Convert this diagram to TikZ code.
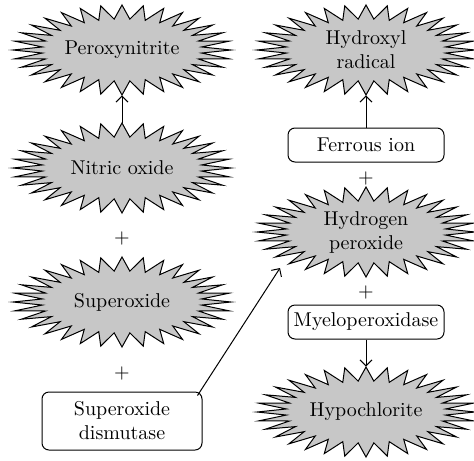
\documentclass[tikz,border=0pt]{standalone}
\usetikzlibrary{arrows.meta,backgrounds,positioning}
\definecolor{burstgray}{gray}{0.78}
\tikzset{
  >={Straight Barb[length=3pt,width=6pt]},
  burstline/.style={draw, line width=0.5pt, fill=burstgray},
  burst/.style={minimum width=109pt, minimum height=45pt, align=center, inner sep=0pt},
  agent/.style={draw, line width=0.5pt, rounded corners=3.5pt, align=center,
    minimum width=78pt, minimum height=17pt, inner sep=1pt},
  plus/.style={inner sep=0pt}
}
% spiky outline round a named node (outer radii 109/45, inner 80/31)
\newcommand\spiky[1]{%
  \filldraw[burstline, shift={(#1.center)}] (0:109 and 45)
    \foreach \k in {1,...,32}{ -- ({\k*11.25-5.625}:80 and 31) -- ({\k*11.25}:109 and 45)} -- cycle;}
\begin{document}
\begin{tikzpicture}[x=0.5pt,y=-0.5pt]
  \useasboundingbox (0,0) rectangle (474,460);
  % left column
  \node[burst] (perox) at (122,50) {Peroxynitrite};
  \node[burst] (nitric) at (122,168) {Nitric oxide};
  \node[plus] (plusA) at (122,238) {+};
  \node[burst] (super) at (122,302) {Superoxide};
  \node[plus] (plusB) at (122,373) {+};
  \node[agent, minimum width=80pt, minimum height=29pt] (sod) at (122,421) {Superoxide\\dismutase};
  % right column
  \node[burst] (hydroxyl) at (366,50) {Hydroxyl\\radical};
  \node[agent] (ferrous) at (366,145) {Ferrous ion};
  \node[plus] (plusC) at (366,178) {+};
  \node[burst] (hperox) at (366,232) {Hydrogen\\peroxide};
  \node[plus] (plusD) at (366,292) {+};
  \node[agent] (mpo) at (366,322) {Myeloperoxidase};
  \node[burst] (hypo) at (366,412) {Hypochlorite};
  \begin{pgfonlayer}{background}
    \foreach \n in {perox,nitric,super,hydroxyl,hperox,hypo} {\spiky{\n}}
  \end{pgfonlayer}
  % arrows
  \draw[->, line width=0.5pt] (nitric.north) -- (perox.south);
  \draw[->, line width=0.5pt] (ferrous.north) -- (hydroxyl.south);
  \draw[->, line width=0.5pt] (mpo.south) -- (hypo.north);
  \draw[->, line width=0.5pt] ([xshift=-2.5pt,yshift=-2pt]sod.north east) -- ([xshift=-43pt,yshift=-18pt]hperox.center);
\end{tikzpicture}
\end{document}
